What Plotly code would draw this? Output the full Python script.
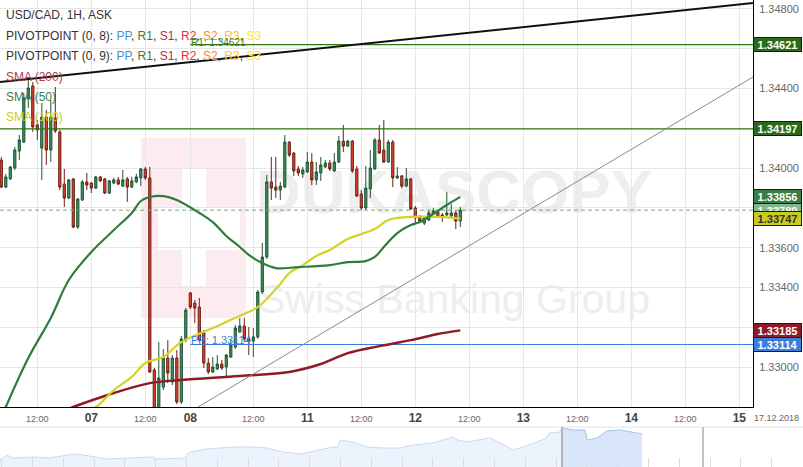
import plotly.graph_objects as go

# ---------------- data ----------------
# hourly candles, x = trading hour index since 06.12.2018 00:00 (weekend removed)
hours = list(range(4, 107))
opens = [1.34041, 1.33905, 1.33946, 1.34001, 1.34086, 1.34131, 1.34348, 1.34413, 1.34217, 1.34101,
         1.34257, 1.34091, 1.34252, 1.34182, 1.33920, 1.33850, 1.33946, 1.33704, 1.33840, 1.33931,
         1.33925, 1.33900, 1.33956, 1.33946, 1.33875, 1.33925, 1.33941, 1.33910, 1.33946, 1.33905,
         1.33931, 1.33951, 1.33996, 1.33951, 1.32986, 1.32785, 1.32900, 1.33046, 1.32925, 1.33046,
         1.32825, 1.33136, 1.33373, 1.33322, 1.33302, 1.33172, 1.33021, 1.32976, 1.32991, 1.33016,
         1.33001, 1.33051, 1.33101, 1.33177, 1.33207, 1.33142, 1.33131, 1.33152, 1.33378, 1.33554,
         1.33931, 1.33905, 1.33890, 1.33905, 1.34131, 1.34076, 1.33996, 1.33971, 1.33981, 1.34031,
         1.33941, 1.33976, 1.34006, 1.34026, 1.33986, 1.34031, 1.34136, 1.34111, 1.34136, 1.33996,
         1.33870, 1.33800, 1.33895, 1.33996, 1.34142, 1.34091, 1.34031, 1.34131, 1.33951, 1.33961,
         1.33910, 1.33946, 1.33800, 1.33755, 1.33724, 1.33740, 1.33770, 1.33780, 1.33765, 1.33765,
         1.33760, 1.33775, 1.33734]
highs = [1.34056, 1.33971, 1.34011, 1.34106, 1.34167, 1.34378, 1.34443, 1.34433, 1.34242, 1.34327,
         1.34292, 1.34343, 1.34408, 1.34192, 1.33996, 1.33946, 1.33951, 1.33850, 1.33941, 1.33976,
         1.33931, 1.33961, 1.33961, 1.33951, 1.33941, 1.33951, 1.33956, 1.33991, 1.33956, 1.33956,
         1.33971, 1.34001, 1.34006, 1.34006, 1.32996, 1.33126, 1.33091, 1.33136, 1.33061, 1.33086,
         1.33157, 1.33297, 1.33378, 1.33338, 1.33348, 1.33187, 1.33046, 1.33051, 1.33061, 1.33036,
         1.33066, 1.33136, 1.33212, 1.33247, 1.33247, 1.33202, 1.33197, 1.33388, 1.33624, 1.33966,
         1.34056, 1.34056, 1.33931, 1.34167, 1.34136, 1.34081, 1.34011, 1.34006, 1.34081, 1.34076,
         1.34031, 1.34056, 1.34041, 1.34041, 1.34076, 1.34162, 1.34217, 1.34142, 1.34142, 1.34011,
         1.33890, 1.34011, 1.34091, 1.34152, 1.34217, 1.34242, 1.34142, 1.34142, 1.34006, 1.33966,
         1.34001, 1.33951, 1.33810, 1.33765, 1.33760, 1.33790, 1.33800, 1.33790, 1.33775, 1.33880,
         1.33820, 1.33785, 1.33805]
lows = [1.33900, 1.33900, 1.33941, 1.33991, 1.34041, 1.34126, 1.34302, 1.34182, 1.34142, 1.33941,
        1.34016, 1.34031, 1.34177, 1.33890, 1.33805, 1.33845, 1.33699, 1.33694, 1.33835, 1.33890,
        1.33875, 1.33895, 1.33931, 1.33870, 1.33870, 1.33920, 1.33915, 1.33905, 1.33830, 1.33900,
        1.33925, 1.33910, 1.33941, 1.32971, 1.32734, 1.32760, 1.32885, 1.32920, 1.32910, 1.32815,
        1.32815, 1.33126, 1.33292, 1.33222, 1.33126, 1.32996, 1.32966, 1.32971, 1.32986, 1.32986,
        1.32946, 1.33046, 1.33091, 1.33172, 1.33126, 1.33061, 1.33051, 1.33142, 1.33368, 1.33543,
        1.33840, 1.33850, 1.33840, 1.33900, 1.34056, 1.33961, 1.33961, 1.33951, 1.33976, 1.33915,
        1.33915, 1.33936, 1.34001, 1.33986, 1.33981, 1.34026, 1.34081, 1.34106, 1.33976, 1.33855,
        1.33790, 1.33790, 1.33850, 1.33991, 1.34071, 1.34026, 1.34026, 1.33905, 1.33946, 1.33900,
        1.33905, 1.33790, 1.33724, 1.33724, 1.33714, 1.33734, 1.33765, 1.33750, 1.33729, 1.33760,
        1.33750, 1.33694, 1.33704]
closes = [1.33905, 1.33956, 1.34006, 1.34091, 1.34142, 1.34353, 1.34403, 1.34207, 1.34192, 1.34257,
          1.34091, 1.34257, 1.34187, 1.33905, 1.33850, 1.33941, 1.33704, 1.33845, 1.33931, 1.33915,
          1.33900, 1.33956, 1.33936, 1.33875, 1.33936, 1.33941, 1.33920, 1.33941, 1.33905, 1.33936,
          1.33956, 1.33996, 1.33951, 1.32976, 1.32760, 1.32946, 1.33046, 1.32971, 1.33046, 1.32825,
          1.33142, 1.33287, 1.33302, 1.33297, 1.33136, 1.33021, 1.32976, 1.33001, 1.33016, 1.32996,
          1.33061, 1.33111, 1.33197, 1.33207, 1.33142, 1.33131, 1.33152, 1.33378, 1.33554, 1.33931,
          1.33900, 1.33890, 1.33910, 1.34131, 1.34066, 1.33986, 1.33976, 1.33991, 1.34031, 1.33941,
          1.33981, 1.34016, 1.34026, 1.33996, 1.34031, 1.34136, 1.34111, 1.34136, 1.33986, 1.33860,
          1.33800, 1.33900, 1.34001, 1.34142, 1.34076, 1.34031, 1.34131, 1.33951, 1.33961, 1.33910,
          1.33946, 1.33795, 1.33750, 1.33734, 1.33750, 1.33775, 1.33785, 1.33755, 1.33755, 1.33775,
          1.33775, 1.33734, 1.33789]

sma50_h = [4, 5, 10, 15, 19, 24, 29, 33, 35, 37, 40, 43, 48, 51, 54, 57, 59, 62, 65, 70, 77, 81,
           85, 87, 89, 92, 95, 97, 100, 103, 106]
sma50_v = [1.32745, 1.32800, 1.33046, 1.33247, 1.33438, 1.33579, 1.33689, 1.33775, 1.33835, 1.33855,
           1.33860, 1.33840, 1.33775, 1.33729, 1.33659, 1.33604, 1.33564, 1.33523, 1.33498, 1.33503,
           1.33513, 1.33528, 1.33533, 1.33554, 1.33604, 1.33674, 1.33714, 1.33729, 1.33770, 1.33815,
           1.33856]
sma100_h = [22, 25, 29, 33, 36, 40, 44, 51, 57, 61, 64, 66, 68, 71, 74, 77, 81, 87, 90, 95, 101, 106]
sma100_v = [1.32780, 1.32800, 1.32885, 1.32951, 1.33021, 1.33051, 1.33126, 1.33197, 1.33258, 1.33302,
            1.33368, 1.33418, 1.33473, 1.33513, 1.33559, 1.33589, 1.33644, 1.33694, 1.33740, 1.33755,
            1.33755, 1.33747]
sma200_h = [16, 20, 25, 29, 37, 44, 57, 68, 75, 81, 88, 95, 101, 106]
sma200_v = [1.32760, 1.32800, 1.32840, 1.32870, 1.32920, 1.32936, 1.32956, 1.32976, 1.33016, 1.33071,
            1.33106, 1.33136, 1.33167, 1.33185]

# pivot levels
r1_prev = 1.34197          # R1 of previous session (drawn across the whole view)
r1_level = 1.34621         # R1 of current session
pp_level = 1.33114         # PP of current session
session_start = 46         # hour index where the current pivot session begins

# drawn trend lines
trend_black_x = [3.71, 171.04]
trend_black_y = [1.34433, 1.34830]
trend_gray_x = [47.71, 171.04]
trend_gray_y = [1.32800, 1.34458]

x_range = [3.711, 171.044]
y_range = [1.32800, 1.34845]

tick_hours = [12, 24, 36, 46, 60, 72, 84, 96, 108, 120, 132, 144, 156, 168]
tick_labels = ["12:00", "07", "12:00", "08", "12:00", "11", "12:00", "12",
               "12:00", "13", "12:00", "14", "12:00", "15"]
y_ticks = [1.330, 1.332, 1.334, 1.336, 1.338, 1.340, 1.342, 1.344, 1.346, 1.348]
y_ticks_covered = [1.338, 1.342, 1.346]   # labels hidden behind the price tags

# navigator overview series
nav_t = [0, 7, 13, 33, 50, 67, 77, 93, 107, 127, 153, 157, 185, 187, 190, 207, 233, 253, 267, 283,
         300, 310, 333, 338, 340, 353, 367, 383, 400, 413, 433, 453, 457, 467, 490, 500, 513, 523,
         533, 547, 549, 560, 562, 573, 585, 587, 597, 607, 620, 630, 642]
nav_v = [1.284, 1.294, 1.288, 1.290, 1.288, 1.294, 1.296, 1.290, 1.286, 1.288, 1.290, 1.286, 1.288,
         1.296, 1.300, 1.306, 1.310, 1.310, 1.308, 1.300, 1.296, 1.300, 1.310, 1.310, 1.324, 1.320,
         1.310, 1.308, 1.308, 1.314, 1.318, 1.330, 1.324, 1.320, 1.328, 1.318, 1.304, 1.310, 1.318,
         1.328, 1.338, 1.340, 1.348, 1.344, 1.344, 1.324, 1.328, 1.342, 1.344, 1.340, 1.336]
nav_window = [562, 642]
nav_marker = 703
date_label = "17.12.2018"

# ---------------- layout helpers ----------------
W, H = 803, 467
PLOT_R, PLOT_B = 753, 407
NAV_TOP = 427


def pxx(x):
    return x / W


def pyy(y):
    return 1 - y / H


FONT = "Liberation Sans, Arial, sans-serif"

fig = go.Figure()

fig.add_trace(go.Candlestick(
    x=hours, open=opens, high=highs, low=lows, close=closes,
    increasing=dict(fillcolor="#3f8f5f", line=dict(color="#1e5434", width=1)),
    decreasing=dict(fillcolor="#d8432f", line=dict(color="#6e1e10", width=1)),
    whiskerwidth=0, hoverinfo="skip", xaxis="x", yaxis="y"))

# horizontal levels
fig.add_trace(go.Scatter(x=x_range, y=[r1_prev, r1_prev], mode="lines",
                         line=dict(color="#2c7a0c", width=1.3), hoverinfo="skip"))
fig.add_trace(go.Scatter(x=[session_start, x_range[1]], y=[r1_level, r1_level], mode="lines",
                         line=dict(color="#2c7a0c", width=1.3), hoverinfo="skip"))
fig.add_trace(go.Scatter(x=[session_start, x_range[1]], y=[pp_level, pp_level], mode="lines",
                         line=dict(color="#3b7ee0", width=1.2), hoverinfo="skip"))
fig.add_trace(go.Scatter(x=x_range, y=[closes[-1], closes[-1]], mode="lines",
                         line=dict(color="#78a886", width=1, dash="4px,3px"), hoverinfo="skip"))

# moving averages
fig.add_trace(go.Scatter(x=sma200_h, y=sma200_v, mode="lines", line_shape="spline",
                         line=dict(color="#8e1b26", width=2.5), hoverinfo="skip"))
fig.add_trace(go.Scatter(x=sma100_h, y=sma100_v, mode="lines", line_shape="spline",
                         line=dict(color="#d3d326", width=2.2), hoverinfo="skip"))
fig.add_trace(go.Scatter(x=sma50_h, y=sma50_v, mode="lines", line_shape="spline",
                         line=dict(color="#2f7d3c", width=2.2), hoverinfo="skip"))

# trend lines
fig.add_trace(go.Scatter(x=trend_black_x, y=trend_black_y, mode="lines",
                         line=dict(color="#111111", width=2), hoverinfo="skip"))
fig.add_trace(go.Scatter(x=trend_gray_x, y=trend_gray_y, mode="lines",
                         line=dict(color="#8a8a8a", width=1), hoverinfo="skip"))

# navigator
fig.add_trace(go.Scatter(x=nav_t, y=nav_v, mode="lines", fill="tozeroy",
                         fillcolor="#edf3fc", line=dict(color="#cadbf4", width=1),
                         xaxis="x2", yaxis="y2", hoverinfo="skip"))
win_t = [t for t in nav_t if nav_window[0] <= t <= nav_window[1]]
win_v = [v for t, v in zip(nav_t, nav_v) if nav_window[0] <= t <= nav_window[1]]
fig.add_trace(go.Scatter(x=win_t, y=win_v, mode="lines", fill="tozeroy",
                         fillcolor="#d9e6fa", line=dict(color="#a9c5ef", width=1),
                         xaxis="x2", yaxis="y2", hoverinfo="skip"))


def tick_fmt(t):
    if ":" in t:
        return t
    return '<span style="font-size:12px;font-weight:bold;fill:#444">' + t + "</span>"


shapes = []
# watermark logo
shapes.append(dict(type="rect", xref="paper", yref="paper", x0=pxx(141), x1=pxx(246),
                   y0=pyy(318), y1=pyy(138), fillcolor="#fcecef", line_width=0, layer="below"))
shapes.append(dict(type="rect", xref="paper", yref="paper", x0=pxx(182), x1=pxx(206),
                   y0=pyy(286), y1=pyy(168), fillcolor="#ffffff", line_width=0, layer="below"))
shapes.append(dict(type="rect", xref="paper", yref="paper", x0=pxx(158), x1=pxx(240),
                   y0=pyy(250), y1=pyy(208), fillcolor="#ffffff", line_width=0, layer="below"))
shapes.append(dict(type="rect", xref="paper", yref="paper", x0=pxx(254), x1=pxx(654),
                   y0=pyy(238), y1=pyy(132), fillcolor="rgba(0,0,0,0)", line_width=0, layer="below",
                   label=dict(text="<b>DUKASCOPY</b>", textposition="middle center",
                              font=dict(family=FONT, size=62, color="#eeeeee"))))
shapes.append(dict(type="rect", xref="paper", yref="paper", x0=pxx(254), x1=pxx(654),
                   y0=pyy(322), y1=pyy(268), fillcolor="rgba(0,0,0,0)", line_width=0, layer="below",
                   label=dict(text="Swiss Banking Group", textposition="middle center",
                              font=dict(family=FONT, size=41, color="#eeeeee"))))
# navigator decorations
shapes.append(dict(type="line", xref="paper", yref="paper", x0=0, x1=1, y0=pyy(NAV_TOP),
                   y1=pyy(NAV_TOP), line=dict(color="#e2e2e2", width=1)))
shapes.append(dict(type="line", xref="x2", yref="paper", x0=nav_window[0], x1=nav_window[0],
                   y0=0, y1=pyy(NAV_TOP), line=dict(color="#b5b5b5", width=2)))
shapes.append(dict(type="line", xref="x2", yref="paper", x0=nav_marker, x1=nav_marker,
                   y0=0, y1=pyy(NAV_TOP), line=dict(color="#c4c4c4", width=2)))

annotations = []
# legend block
pivot_items = [("PP", "#4a8ee0"), ("R1", "#3d7b2d"), ("S1", "#b3303a"), ("R2", "#ea3036"),
               ("S2", "#ff8c1a"), ("R3", "#ffcc00"), ("S3", "#ffec00")]
pivot_txt = ", ".join('<span style="color:%s">%s</span>' % (c, n) for n, c in pivot_items)
legend_lines = [
    ("USD/CAD, 1H, ASK", "#333333", 15),
    ("PIVOTPOINT (0, 8): " + pivot_txt, "#333333", 35.5),
    ("PIVOTPOINT (0, 9): " + pivot_txt, "#333333", 56),
    ("SMA (200)", "#b0404c", 76.5),
    ("SMA (50)", "#3e7e49", 96.5),
    ("SMA (100)", "#cccc2a", 116.5),
]
for txt, col, yc in legend_lines:
    annotations.append(dict(x=pxx(4), y=pyy(yc), xref="paper", yref="paper", text=txt,
                            showarrow=False, xanchor="left", yanchor="middle",
                            font=dict(family=FONT, size=12, color=col)))

annotations.append(dict(x=session_start, y=r1_level, xref="x", yref="y",
                        text="R1: %.5f" % r1_level, showarrow=False, xanchor="left",
                        yanchor="bottom", borderpad=0, yshift=-4,
                        font=dict(family=FONT, size=10, color="#3a7a22")))
annotations.append(dict(x=session_start, y=pp_level, xref="x", yref="y",
                        text="PP: %.5f" % pp_level, showarrow=False, xanchor="left",
                        yanchor="bottom", borderpad=0, yshift=-2,
                        font=dict(family=FONT, size=11, color="#3b7ee0")))

# price tags on the right axis
tags = [
    (r1_level, "#2b6b17", "#ffffff"),
    (r1_prev, "#2b6b17", "#ffffff"),
    (closes[-1], "#84b693", "#f4fff4"),
    (sma50_v[-1], "#3a7d45", "#ffffff"),
    (sma100_v[-1], "#cbcb1e", "#333333"),
    (sma200_v[-1], "#8e1b26", "#ffffff"),
    (pp_level, "#3b7ee0", "#ffffff"),
]
for val, bg, fc in tags:
    annotations.append(dict(x=pxx(PLOT_R), y=val, xref="paper", yref="y",
                            text="<b>%.5f</b>" % val, showarrow=False, xanchor="left",
                            yanchor="middle", align="center", width=45, height=11,
                            bgcolor=bg, bordercolor="#1a1a1a", borderwidth=1, borderpad=1,
                            font=dict(family=FONT, size=11, color=fc)))

annotations.append(dict(x=pxx(776), y=pyy(418), xref="paper", yref="paper", text=date_label,
                        showarrow=False, xanchor="center", yanchor="middle",
                        font=dict(family=FONT, size=9, color="#666666")))

y_ticktext = ["" if any(abs(v - c) < 1e-9 for c in y_ticks_covered) else "%.5f" % v
              for v in y_ticks]

fig.update_layout(
    width=W, height=H, margin=dict(l=0, r=0, t=0, b=0),
    paper_bgcolor="#ffffff", plot_bgcolor="#ffffff", showlegend=False,
    xaxis=dict(domain=[0, PLOT_R / W], range=x_range, anchor="y",
               tickvals=tick_hours, ticktext=[tick_fmt(t) for t in tick_labels],
               tickfont=dict(family=FONT, size=9, color="#666666"),
               ticks="outside", ticklen=3, tickcolor="rgba(0,0,0,0)",
               showgrid=True, gridcolor="#e6e6e6", gridwidth=1, zeroline=False,
               showline=True, linecolor="#000000", linewidth=1,
               rangeslider=dict(visible=False), fixedrange=True),
    yaxis=dict(domain=[1 - PLOT_B / H, 1], range=y_range, anchor="x", side="right",
               tickvals=y_ticks, ticktext=y_ticktext,
               tickfont=dict(family=FONT, size=11, color="#666666"),
               ticks="outside", ticklen=3, tickcolor="rgba(0,0,0,0)",
               showgrid=True, gridcolor="#e6e6e6", gridwidth=1, zeroline=False,
               showline=True, linecolor="#000000", linewidth=1, fixedrange=True),
    xaxis2=dict(domain=[0, 1], range=[0, W], anchor="y2", showgrid=False, zeroline=False,
                showticklabels=False, ticks="inside", ticklen=9, tickcolor="#dddddd",
                tick0=1.7, dtick=30.8, showline=False, fixedrange=True),
    yaxis2=dict(domain=[0, (H - NAV_TOP) / H], range=[1.27, 1.35], visible=False,
                fixedrange=True),
    shapes=shapes, annotations=annotations,
)

fig.write_html("out.html", config={"displayModeBar": False},
               post_script="document.body.style.margin='0';document.body.style.overflow='hidden';")
